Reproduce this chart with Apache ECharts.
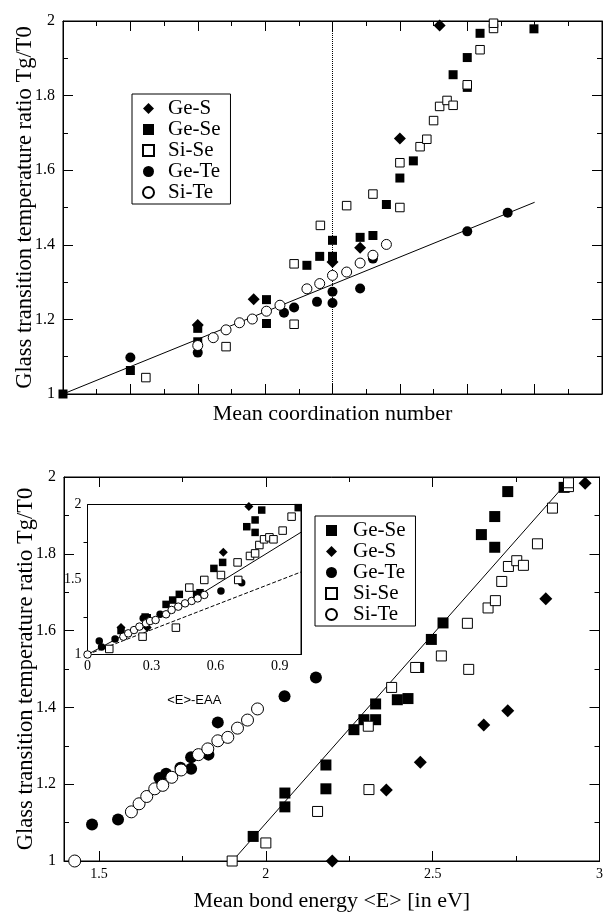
<!DOCTYPE html>
<html><head><meta charset="utf-8">
<script src="https://cdn.jsdelivr.net/npm/echarts@6/dist/echarts.min.js"></script>
<style>html,body{margin:0;padding:0;background:#fff}#c{width:606px;height:913px}</style>
</head><body><div id="c"></div>
<script>
// ---------- names / legends ----------
const seriesNames = ['Ge-S', 'Ge-Se', 'Si-Se', 'Ge-Te', 'Si-Te'];
const topLegendOrder = ['Ge-S', 'Ge-Se', 'Si-Se', 'Ge-Te', 'Si-Te'];
const bottomLegendOrder = ['Ge-Se', 'Ge-S', 'Ge-Te', 'Si-Se', 'Si-Te'];
const topXName = 'Mean coordination number';
const yName = 'Glass transition temperature ratio Tg/T0';
const bottomXName = 'Mean bond energy <E> [in eV]';
const insetXName = '<E>-EAA';

// ---------- top panel: Tg/T0 vs mean coordination number ----------
const topGeS = [[2.20,1.185],[2.283,1.254],[2.40,1.354],[2.441,1.392],[2.50,1.685],[2.559,1.988]];
const topGeSe = [[2.0,1.0],[2.10,1.063],[2.20,1.176],[2.20,1.14],[2.302,1.253],[2.302,1.189],[2.362,1.345],[2.381,1.369],[2.40,1.412],[2.40,1.369],[2.441,1.42],[2.46,1.425],[2.48,1.508],[2.50,1.579],[2.52,1.625],[2.579,1.856],[2.60,1.902],[2.60,1.822],[2.619,1.967],[2.699,1.979]];
const topSiSe = [[2.123,1.044],[2.242,1.127],[2.343,1.187],[2.343,1.349],[2.382,1.452],[2.421,1.505],[2.46,1.536],[2.50,1.50],[2.50,1.62],[2.53,1.663],[2.54,1.683],[2.55,1.733],[2.559,1.771],[2.57,1.787],[2.579,1.774],[2.60,1.829],[2.619,1.923],[2.639,1.98],[2.639,1.994]];
const topGeTe = [[2.10,1.098],[2.20,1.111],[2.328,1.218],[2.343,1.232],[2.377,1.247],[2.40,1.274],[2.40,1.244],[2.441,1.283],[2.46,1.363],[2.60,1.436],[2.66,1.486]];
const topSiTe = [[2.20,1.13],[2.223,1.151],[2.242,1.172],[2.262,1.191],[2.281,1.201],[2.302,1.222],[2.322,1.238],[2.362,1.282],[2.381,1.296],[2.40,1.318],[2.421,1.327],[2.441,1.351],[2.46,1.372],[2.48,1.401]];
const topFit = [[2.0,1.0],[2.7,1.514]];
const rigidityLine = [[2.4,1.0],[2.4,2.0]];

// ---------- bottom panel: Tg/T0 vs mean bond energy ----------
const botGeSe = [[1.962,1.064],[2.057,1.141],[2.057,1.177],[2.180,1.250],[2.180,1.188],[2.264,1.342],[2.294,1.368],[2.329,1.368],[2.329,1.409],[2.394,1.420],[2.426,1.423],[2.458,1.504],[2.496,1.577],[2.531,1.620],[2.646,1.850],[2.686,1.897],[2.686,1.817],[2.725,1.962],[2.894,1.973]];
const botGeS = [[2.199,1.0],[2.361,1.185],[2.463,1.257],[2.653,1.354],[2.725,1.391],[2.839,1.683],[2.957,1.984]];
const botGeTe = [[1.479,1.095],[1.557,1.108],[1.681,1.216],[1.701,1.227],[1.744,1.243],[1.776,1.240],[1.776,1.270],[1.828,1.277],[1.856,1.361],[2.056,1.429],[2.150,1.478]];
const botSiSe = [[1.899,1.0],[2.0,1.047],[2.155,1.129],[2.309,1.186],[2.307,1.351],[2.377,1.452],[2.449,1.504],[2.526,1.534],[2.608,1.499],[2.604,1.619],[2.666,1.659],[2.688,1.678],[2.707,1.728],[2.727,1.767],[2.752,1.782],[2.772,1.770],[2.814,1.826],[2.859,1.919],[2.907,1.975],[2.907,1.985]];
const botSiTe = [[1.427,1.0],[1.597,1.128],[1.620,1.149],[1.643,1.168],[1.667,1.188],[1.691,1.197],[1.718,1.218],[1.746,1.237],[1.798,1.277],[1.826,1.292],[1.856,1.313],[1.886,1.322],[1.915,1.346],[1.945,1.367],[1.975,1.396]];
const bottomFit = [[1.9,1.0],[2.917,2.0]];

// ---------- inset: Tg/T0 vs <E>-EAA ----------
const insGeSe = [[0.157,1.16],[0.27,1.25],[0.28,1.245],[0.368,1.334],[0.399,1.363],[0.43,1.401],[0.511,1.401],[0.527,1.412],[0.592,1.574],[0.633,1.614],[0.746,1.852],[0.785,1.897],[0.785,1.814],[0.816,1.963],[0.987,1.979]];
const insGeS = [[0.157,1.18],[0.28,1.18],[0.636,1.681],[0.756,1.986]];
const insGeTe = [[0.055,1.09],[0.066,1.05],[0.129,1.103],[0.261,1.241],[0.34,1.268],[0.625,1.423],[0.722,1.479]];
const insSiSe = [[0.102,1.037],[0.258,1.119],[0.414,1.179],[0.477,1.446],[0.547,1.497],[0.625,1.53],[0.703,1.614],[0.706,1.497],[0.761,1.657],[0.785,1.674],[0.805,1.73],[0.827,1.768],[0.852,1.781],[0.871,1.768],[0.914,1.826],[0.956,1.919]];
const insSiTe = [[0,1.0],[0.168,1.119],[0.191,1.141],[0.218,1.163],[0.243,1.186],[0.274,1.208],[0.293,1.223],[0.319,1.23],[0.368,1.268],[0.394,1.297],[0.425,1.319],[0.457,1.341],[0.488,1.357],[0.516,1.374],[0.547,1.397]];
const insetFitSolid = [[0,1.0],[0.55,1.42],[1.0,1.815]];
const insetFitDashed = [[0,1.0],[1.0,1.55]];

// ---------- ticks ----------
const topXMajor = [2.0,2.1,2.2,2.3,2.4,2.5,2.6,2.7,2.8];
const topXMinor = [2.05,2.15,2.25,2.35,2.45,2.55,2.65,2.75];
const yMajorTicks = [1,1.2,1.4,1.6,1.8,2];
const yMinorTicks = [1.1,1.3,1.5,1.7,1.9];
const botXMajor = [1.5,2,2.5,3];
const botXMinor = [1.75,2.25,2.75];
const insXMajor = [0,0.3,0.6,0.9];
const insXMinor = [0.15,0.45,0.75];
const insYMajor = [1,1.5,2];
const insYMinor = [1.25,1.75];

const SERIF = 'Liberation Serif';
const xAxes = [], yAxes = [];
function addAxes(list, isX, gi, o) {
  const idx = list.length;
  const posA = isX ? 'bottom' : 'left', posB = isX ? 'top' : 'right';
  const base = {type:'value', gridIndex:gi, min:o.min, max:o.max, splitLine:{show:false}, scale:true};
  const tick = (vals, len) => ({show:true, inside:true, length:len, customValues:vals, lineStyle:{color:'#000', width:1}});
  list.push(Object.assign({}, base, {
    position: posA,
    axisLine:{show:true, onZero:false, lineStyle:{color:'#000', width:1}},
    axisTick: tick(o.majors, o.majorLen),
    axisLabel:{show: !!o.labels, customValues: o.labels || [], margin:o.margin, color:'#000', fontFamily:SERIF, fontSize:o.fontSize},
    name: o.name || '', nameLocation:'middle', nameGap:o.nameGap || 0, nameMoveOverlap:false,
    nameTextStyle: o.nameStyle || {}
  }));
  list.push(Object.assign({}, base, {position:posA, axisLine:{show:false}, axisLabel:{show:false}, axisTick: tick(o.minors, o.minorLen)}));
  list.push(Object.assign({}, base, {position:posB, axisLine:{show:true, onZero:false, lineStyle:{color:'#000', width:1}}, axisLabel:{show:false}, axisTick: tick(o.majors, o.majorLen)}));
  list.push(Object.assign({}, base, {position:posB, axisLine:{show:false}, axisLabel:{show:false}, axisTick: tick(o.minors, o.minorLen)}));
  return idx;
}
const nameStyleX = {fontFamily:SERIF, fontSize:22, color:'#000'};
const nameStyleY = {fontFamily:SERIF, fontSize:22.5, color:'#000'};

const tX = addAxes(xAxes, true, 0, {min:2.0, max:2.8, majors:topXMajor, minors:topXMinor, majorLen:10, minorLen:5, name:topXName, nameGap:9, nameStyle:nameStyleX});
const tY = addAxes(yAxes, false, 0, {min:1, max:2, majors:yMajorTicks, minors:yMinorTicks, labels:yMajorTicks, majorLen:10, minorLen:5, margin:8, fontSize:16, name:yName, nameGap:26, nameStyle:nameStyleY});
const bX = addAxes(xAxes, true, 1, {min:1.395, max:3.0, majors:botXMajor, minors:botXMinor, labels:botXMajor, majorLen:10, minorLen:5, margin:6, fontSize:14, name:bottomXName, nameGap:29, nameStyle:nameStyleX});
const bY = addAxes(yAxes, false, 1, {min:1, max:2, majors:yMajorTicks, minors:yMinorTicks, labels:yMajorTicks, majorLen:10, minorLen:5, margin:8, fontSize:16, name:yName, nameGap:26, nameStyle:nameStyleY});
const iX = addAxes(xAxes, true, 2, {min:0, max:1, majors:insXMajor, minors:insXMinor, labels:insXMajor, majorLen:7, minorLen:4, margin:5, fontSize:14, name:insetXName, nameGap:39, nameStyle:{fontFamily:'Liberation Sans', fontSize:13, color:'#000'}});
const iY = addAxes(yAxes, false, 2, {min:1, max:2, majors:insYMajor, minors:insYMinor, labels:insYMajor, majorLen:7, minorLen:4, margin:6, fontSize:14});

const styles = {
  'Ge-S':  {symbol:'diamond', itemStyle:{color:'#000', opacity:1}},
  'Ge-Se': {symbol:'rect', itemStyle:{color:'#000', opacity:1}},
  'Si-Se': {symbol:'rect', itemStyle:{color:'#fff', borderColor:'#000', borderWidth:1, opacity:1}},
  'Ge-Te': {symbol:'circle', itemStyle:{color:'#000', opacity:1}},
  'Si-Te': {symbol:'circle', itemStyle:{color:'#fff', borderColor:'#000', borderWidth:1, opacity:1}}
};
function sc(name, data, xi, yi, size) {
  return Object.assign({type:'scatter', name, data, xAxisIndex:xi, yAxisIndex:yi, symbolSize:size, clip:false, z:3, emphasis:{disabled:true}}, styles[name]);
}
function ln(data, xi, yi, type) {
  return {type:'line', data, xAxisIndex:xi, yAxisIndex:yi, symbol:'none', silent:true, z:2, lineStyle:{color:'#000', width:1, type:type||'solid'}};
}

const series = [
  ln(topFit, tX, tY), ln(rigidityLine, tX, tY, 'dotted'),
  sc('Ge-Te', topGeTe, tX, tY, 10), sc('Ge-Se', topGeSe, tX, tY, 9), sc('Ge-S', topGeS, tX, tY, 12),
  sc('Si-Se', topSiSe, tX, tY, 8.5), sc('Si-Te', topSiTe, tX, tY, 10),
  ln(bottomFit, bX, bY),
  sc('Ge-Te', botGeTe, bX, bY, 12), sc('Ge-Se', botGeSe, bX, bY, 11), sc('Ge-S', botGeS, bX, bY, 13),
  sc('Si-Se', botSiSe, bX, bY, 10), sc('Si-Te', botSiTe, bX, bY, 12),
  ln(insetFitSolid, iX, iY), ln(insetFitDashed, iX, iY, 'dashed'),
  sc('Ge-Te', insGeTe, iX, iY, 7.5), sc('Ge-Se', insGeSe, iX, iY, 7.5), sc('Ge-S', insGeS, iX, iY, 9),
  sc('Si-Se', insSiSe, iX, iY, 7.5), sc('Si-Te', insSiTe, iX, iY, 7.5)
];

const legendBase = {orient:'vertical', itemWidth:11, itemHeight:11, itemGap:0, borderColor:'#000', borderWidth:1, borderRadius:0,
  selectedMode:false, inactiveColor:'#000',
  textStyle:{fontFamily:SERIF, fontSize:21, color:'#000', lineHeight:20, padding:[0,0,0,9]}};

const option = {
  animation:false,
  backgroundColor:'#fff',
  grid:[
    {left:63, top:21, width:539, height:373, show:true, borderColor:'#000', borderWidth:1},
    {left:64, top:477, width:537, height:385.5, show:true, borderColor:'#000', borderWidth:1},
    {left:87.5, top:504.5, width:213.5, height:150, show:true, borderColor:'#000', borderWidth:1, backgroundColor:'#fff', z:1}
  ],
  legend:[
    Object.assign({}, legendBase, {data:topLegendOrder, left:132, top:94, padding:[4,10,1,10]}),
    Object.assign({}, legendBase, {data:bottomLegendOrder, left:315, top:516, padding:[4,10,1,10], textStyle:Object.assign({}, legendBase.textStyle, {lineHeight:20.5, padding:[0,0,0,11]})})
  ],
  xAxis:xAxes, yAxis:yAxes, series
};
const chart = echarts.init(document.getElementById('c'), null, {renderer:'canvas'});
chart.setOption(option);
</script></body></html>
